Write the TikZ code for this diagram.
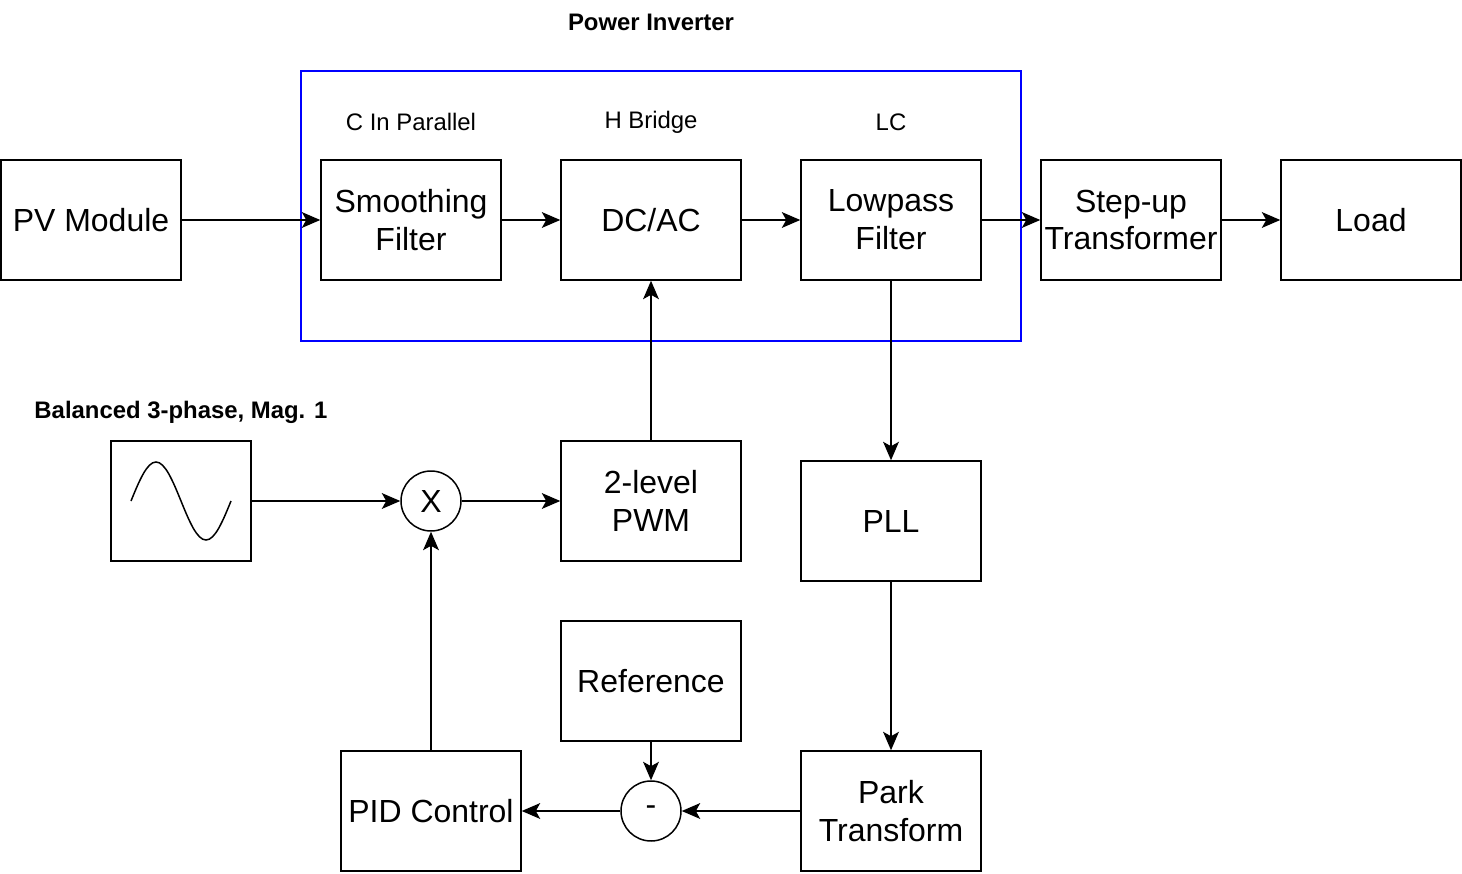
\documentclass[tikz,border=0pt]{standalone}
\usepackage{fontspec}
\setmainfont{Liberation Sans}
\usetikzlibrary{positioning,arrows.meta}

\begin{document}
\begin{tikzpicture}[
    % define styles
    x=0.02cm, y=-0.02cm,
    block/.style={
        draw,
        line width=0.85pt,
        minimum width=3.6cm,
        minimum height=2.4cm,
        inner sep=0pt,
        align=center,
        font=\fontsize{18.2}{21.6}\selectfont
    },
    junction/.style={
        draw,
        circle,
        line width=0.85pt,
        minimum size=1.2cm,
        inner sep=0pt,
        font=\fontsize{18.2}{21.6}\selectfont
    },
    caption/.style={
        font=\fontsize{13.6}{16}\selectfont
    },
    heading/.style={
        font=\fontsize{13.6}{16}\selectfont\bfseries
    },
    link/.style={
        line width=0.85pt
    },
    >={Stealth[length=10.5pt,width=9pt,inset=2.5pt]}
]
\useasboundingbox (0,0) rectangle (1462,874);

% power inverter frame and its labels
\draw[blue, line width=0.65pt] (301,71) rectangle (1021,341);
\node[heading] (inv) at (651,22) {Power Inverter};
\node[caption] (cpar) at (411,122) {C In Parallel};
\node[caption] (hbr) at (651,122) {H Bridge};
\node[caption] (lc) at (891,122) {LC};

% top row
\node[block] (pv) at (91,220) {PV Module};
\node[block] (smooth) at (411,220) {Smoothing\\Filter};
\node[block] (dcac) at (651,220) {DC/AC};
\node[block] (lowpass) at (891,220) {Lowpass\\Filter};
\node[block] (stepup) at (1131,220) {Step-up\\Transformer};
\node[block] (load) at (1371,220) {Load};

% control loop
\node[heading] (bal) at (181,412) {Balanced 3-phase, Mag. 1};
\node[block, minimum width=2.8cm] (sine) at (181,501) {};
\draw[line width=0.85pt] (131,501)
    sin (156,462) cos (181,501) sin (206,540) cos (231,501);
\node[junction] (mult) at (431,501) {X};
\node[block] (pwm) at (651,501) {2-level\\PWM};
\node[block] (pll) at (891,521) {PLL};
\node[block] (ref) at (651,681) {Reference};
\node[junction] (diff) at (651,811) {-};
\node[block] (pid) at (431,811) {PID Control};
\node[block] (park) at (891,811) {Park\\Transform};

% lines along the power path
\foreach \a/\b in {pv/smooth, smooth/dcac, dcac/lowpass, lowpass/stepup, stepup/load}
    \draw[link, ->] (\a) -- (\b);

% lines of the feedback loop
\foreach \a/\b in {lowpass/pll, pll/park, park/diff, ref/diff, diff/pid, pid/mult, sine/mult, mult/pwm, pwm/dcac}
    \draw[link, ->] (\a) -- (\b);
\end{tikzpicture}
\end{document}
